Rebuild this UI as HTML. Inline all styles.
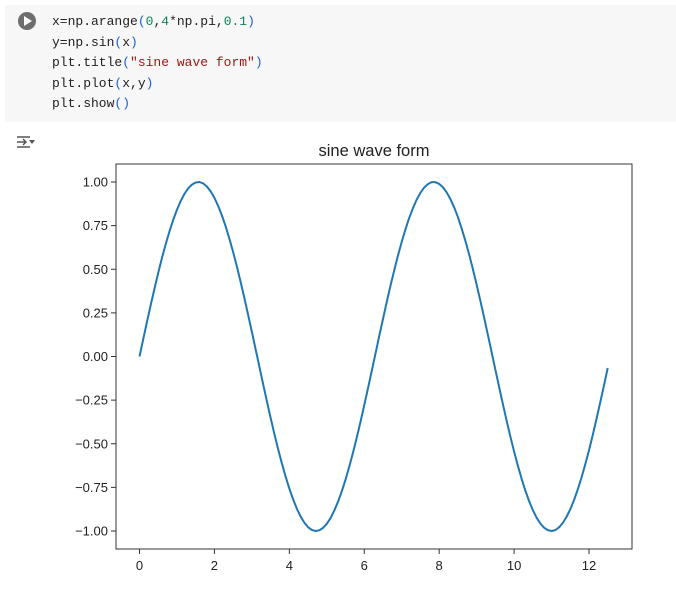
<!DOCTYPE html>
<html><head><meta charset="utf-8"><style>
body{margin:0;width:676px;height:600px;background:#fff;overflow:hidden;font-family:"Liberation Sans",sans-serif}
#cell{position:absolute;left:5px;top:5px;width:671px;height:117px;background:#f7f7f7}
#code{position:absolute;left:52px;top:12px;font:13px/20.5px "Liberation Mono",monospace;color:#222;white-space:pre;margin:0}
.b{color:#1a62d6}.n{color:#098658}.s{color:#a31515}
</style></head><body>
<div id="cell"></div>
<svg style="position:absolute;left:0;top:0" width="676" height="600">
<circle cx="27" cy="21" r="9" fill="#6e6e6e"/>
<polygon points="24,16 24,26 32,21" fill="#fff"/>
<g stroke="#555" stroke-width="1.5" fill="none">
<path d="M17 137h13M17 142h9M17 147h13M23 139l3 3-3 3"/></g>
<polygon points="29,140 35,140 32,144" fill="#555"/>
</svg>
<pre id="code">x=np.arange<span class="b">(</span><span class="n">0</span>,<span class="n">4</span>*np.pi,<span class="n">0.1</span><span class="b">)</span>
y=np.sin<span class="b">(</span>x<span class="b">)</span>
plt.title<span class="b">(</span><span class="s">"sine wave form"</span><span class="b">)</span>
plt.plot<span class="b">(</span>x,y<span class="b">)</span>
plt.show<span class="b">()</span></pre>
<svg id="chart" style="position:absolute;left:0;top:0" width="676" height="600"></svg>
<script>
const xStart=0, xStep=0.1;
const yValues=[0,.100,.199,.296,.389,.479,.565,.644,.717,.783,.841,.891,.932,.964,.985,.997,1.000,.992,.974,.946,.909,.863,.808,.746,.675,.598,.516,.427,.335,.239,.141,.042,-.058,-.158,-.256,-.351,-.443,-.530,-.612,-.688,-.757,-.818,-.872,-.916,-.952,-.978,-.994,-1.000,-.996,-.982,-.959,-.926,-.883,-.832,-.773,-.706,-.631,-.551,-.465,-.374,-.279,-.182,-.083,.017,.117,.215,.312,.405,.494,.578,.657,.729,.794,.850,.899,.938,.968,.988,.999,.999,.989,.970,.941,.902,.855,.799,.734,.663,.585,.501,.412,.319,.223,.125,.025,-.075,-.174,-.272,-.367,-.458,-.544,-.625,-.700,-.768,-.828,-.880,-.923,-.957,-.981,-.995,-1.000,-.995,-.979,-.954,-.919,-.876,-.823,-.762,-.694,-.618,-.537,-.450,-.358,-.263,-.166,-.066];
const xTicks=[0,2,4,6,8,10,12];
const yTicks=[1.00,0.75,0.50,0.25,0.00,-0.25,-0.50,-0.75,-1.00];
const titleText="sine wave form";
const svg=document.getElementById('chart'),NS='http://www.w3.org/2000/svg';
const L=116,R=632,T=164,B=549;
const X=v=>139.5+(v-0)*(589-139.5)/12;
const Y=v=>356.5-v*(531-182)/2;
function mk(t,a,p){const e=document.createElementNS(NS,t);for(const k in a)e.setAttribute(k,a[k]);(p||svg).appendChild(e);return e;}
const title=mk('text',{x:(L+R)/2,y:156,'text-anchor':'middle','font-size':'16.5','fill':'#222'});


title.textContent=titleText;
let d='';yValues.forEach((v,i)=>{d+=(i?'L':'M')+X(xStart+i*xStep).toFixed(2)+' '+Y(v).toFixed(2);});
const line=mk('path',{d:d,fill:'none',stroke:'#1f77b4','stroke-width':'2','stroke-linejoin':'round'});


const frame=mk('rect',{x:L,y:T,width:R-L,height:B-T,fill:'none',stroke:'#333','stroke-width':'1'});


xTicks.forEach(v=>{const g=mk('g',{});


mk('line',{x1:X(v),x2:X(v),y1:B,y2:B+5,stroke:'#333'},g);
const t=mk('text',{x:X(v),y:B+21,'text-anchor':'middle','font-size':'13',fill:'#222'},g);t.textContent=v;});
yTicks.forEach(v=>{const g=mk('g',{});


mk('line',{x1:L-5,x2:L,y1:Y(v),y2:Y(v),stroke:'#333'},g);
const t=mk('text',{x:L-8,y:Y(v)+4.5,'text-anchor':'end','font-size':'13',fill:'#222'},g);t.textContent=v.toFixed(2).replace('-','\u2212');});
</script>
</body></html>
